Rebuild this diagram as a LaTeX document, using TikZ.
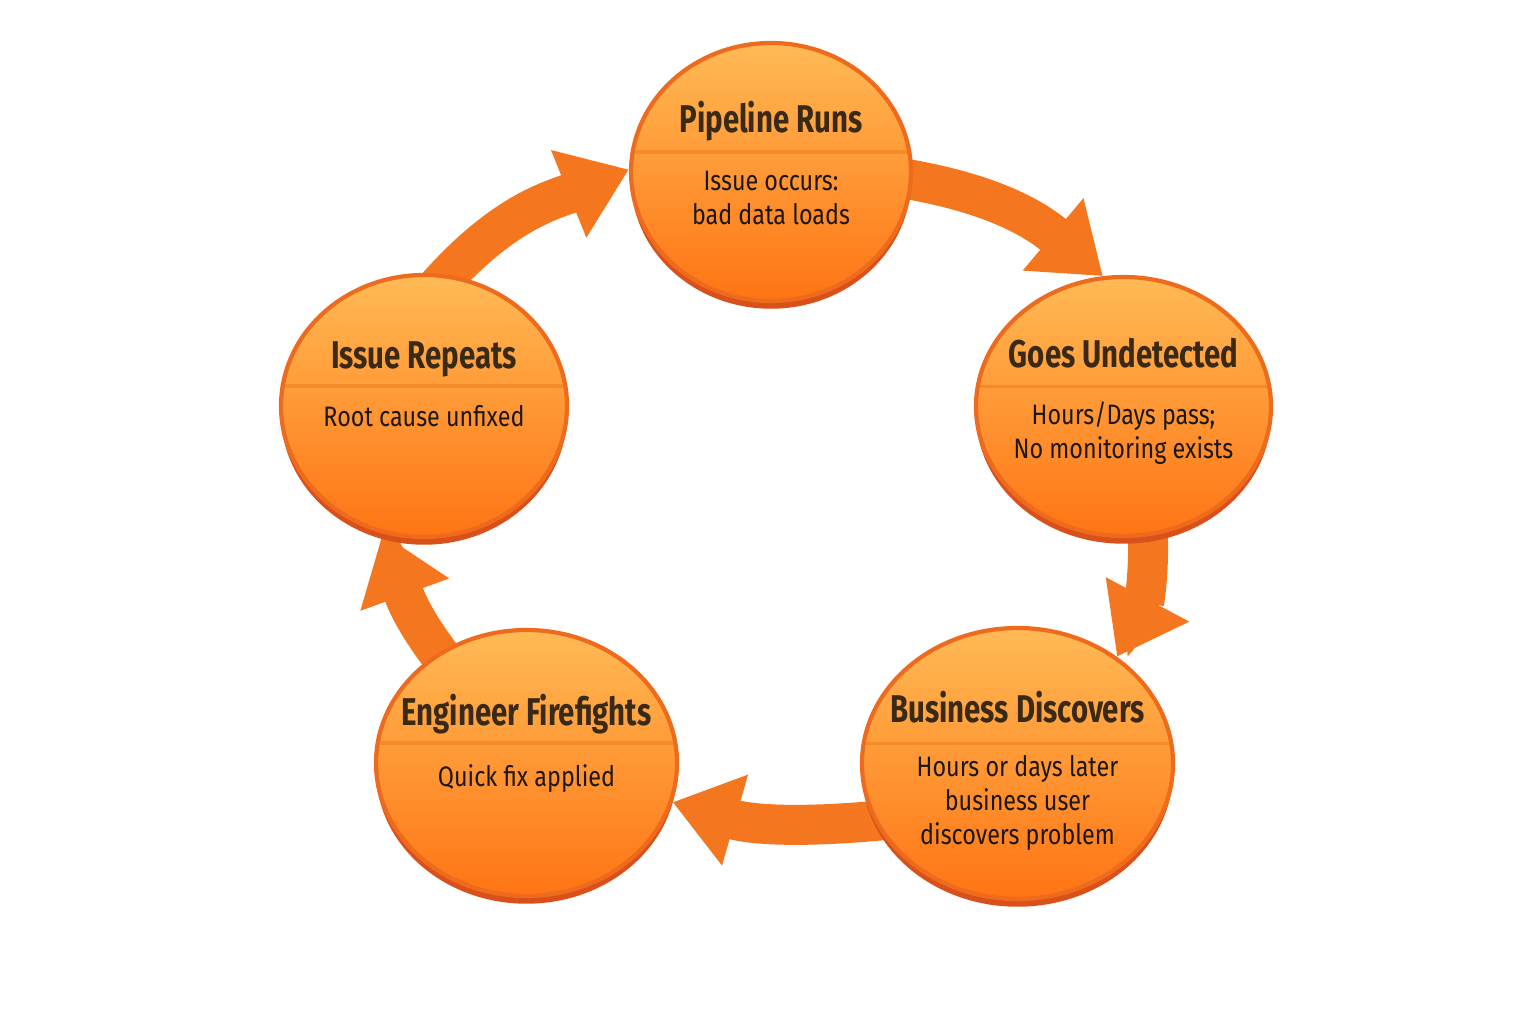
\documentclass[tikz,border=0pt]{standalone}
\usepackage{fontspec}
\newfontfamily\titlefont{Fira Sans}[FakeStretch=0.76]
\newfontfamily\bodyfont{Fira Sans}[FakeStretch=0.83]
\usetikzlibrary{shapes.geometric, arrows.meta, shadows, backgrounds}

\definecolor{discTop}{HTML}{FFBA55}
\definecolor{discBot}{HTML}{FF7414}
\definecolor{discRim}{HTML}{D9501A}
\definecolor{discEdge}{HTML}{EE6A1C}
\definecolor{divLine}{HTML}{F58B28}
\definecolor{flowCol}{HTML}{F4761E}
\definecolor{titleCol}{HTML}{3A2915}
\definecolor{bodyCol}{HTML}{1E1710}

\begin{document}
\begin{tikzpicture}[
    stage/.style={ellipse, draw=discEdge, line width=1.2pt, top color=discTop, bottom color=discBot,
        drop shadow={shadow xshift=0pt, shadow yshift=-2.2pt, fill=discRim, opacity=1},
        path picture={\draw[divLine, line width=0.9pt] ([yshift=0.2cm]path picture bounding box.west) -- ([yshift=0.2cm]path picture bounding box.east);}},
    stagetitle/.style={font={\titlefont\bfseries\fontsize{11pt}{13pt}\selectfont}, text=titleCol, inner sep=0pt, anchor=base},
    stagetext/.style={font={\bodyfont\fontsize{8pt}{9.7pt}\selectfont}, text=bodyCol, align=center, inner sep=0pt, anchor=north},
    flow/.style={draw=flowCol, line width=0.4cm, shorten <=-0.3cm, -{Triangle[width=0.9cm, length=0.65cm]}}]

    \useasboundingbox (0,0) rectangle (15.36,10.24);

    % Stages of the cycle
    \node[stage, minimum width=2.80cm, minimum height=2.58cm] (pipe) at (7.71, 8.52) {};
    \node[stagetitle] (pipeT) at ([yshift=0.39cm]pipe.center) {Pipeline Runs};
    \node[stagetext] (pipeB) at ([yshift=0.02cm]pipe.center) {Issue occurs:\\bad data loads};

    \node[stage, minimum width=2.95cm, minimum height=2.59cm] (undet) at (11.235, 6.175) {};
    \node[stagetitle] (undetT) at ([yshift=0.39cm]undet.center) {Goes Undetected};
    \node[stagetext] (undetB) at ([yshift=0.05cm]undet.center) {Hours/Days pass;\\No monitoring exists};

    \node[stage, minimum width=3.11cm, minimum height=2.71cm] (disc) at (10.175, 2.605) {};
    \node[stagetitle] (discT) at ([yshift=0.41cm]disc.center) {Business Discovers};
    \node[stagetext] (discB) at ([yshift=0.09cm]disc.center) {Hours or days later\\business user\\discovers problem};

    \node[stage, minimum width=3.01cm, minimum height=2.66cm] (fire) at (5.265, 2.61) {};
    \node[stagetitle] (fireT) at ([yshift=0.38cm]fire.center) {Engineer Firefights};
    \node[stagetext] (fireB) at ([yshift=-0.01cm]fire.center) {Quick fix applied};

    \node[stage, minimum width=2.86cm, minimum height=2.62cm] (rep) at (4.24, 6.18) {};
    \node[stagetitle] (repT) at ([yshift=0.38cm]rep.center) {Issue Repeats};
    \node[stagetext] (repB) at ([yshift=0.01cm]rep.center) {Root cause unfixed};

    % Cycle arrows
    \begin{scope}[on background layer]
        \draw[flow] (pipe.-3) to[out=-8, in=140] (undet.99);
        \draw[flow] (undet.-79) to[out=-86, in=62] (disc.47);
        \draw[flow] (disc.202) to[out=186, in=-16] (fire.-15);
        \draw[flow] (fire.129) to[out=130, in=-70] (rep.252);
        \draw[flow] (rep.80) to[out=50, in=202] (pipe.179);
    \end{scope}

\end{tikzpicture}
\end{document}
